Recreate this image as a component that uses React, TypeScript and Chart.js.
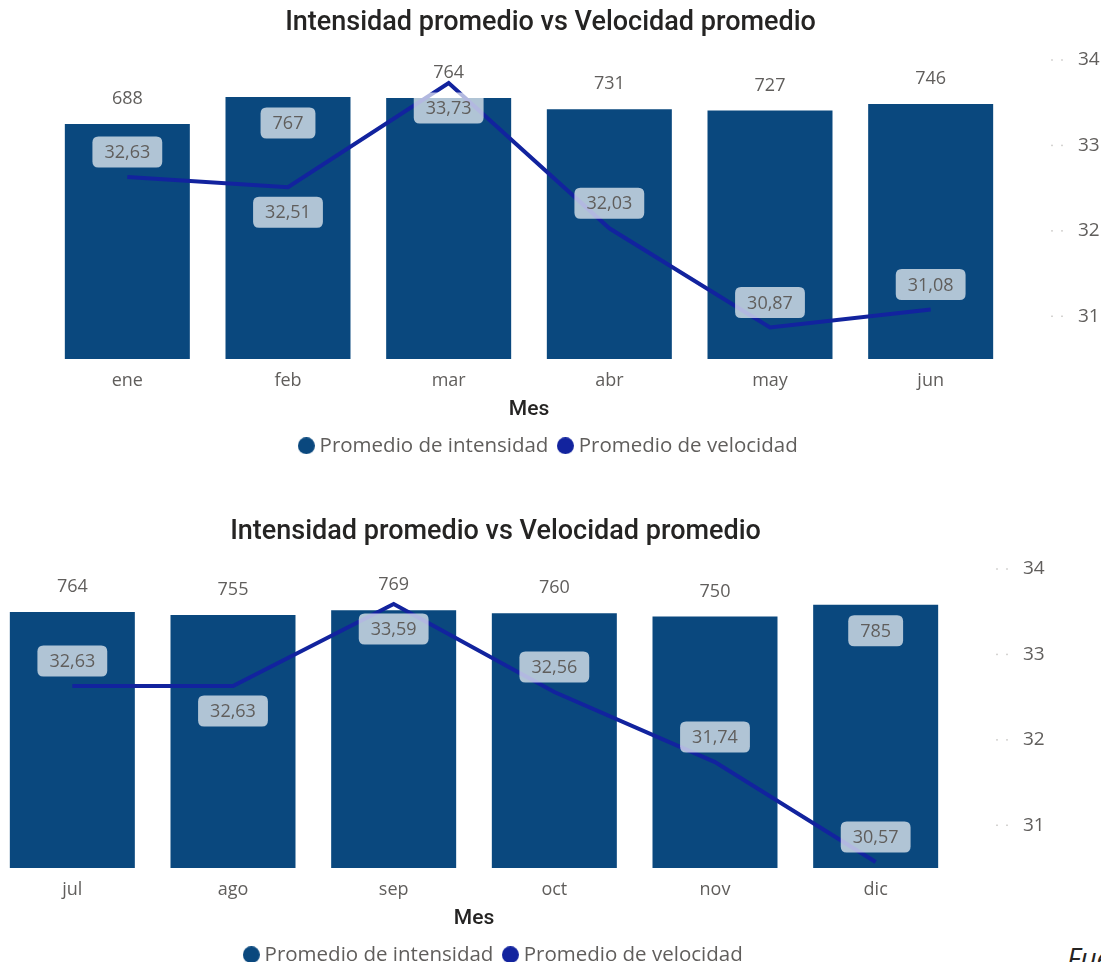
import React, { useEffect, useRef } from "react";
import { Chart, registerables } from "chart.js";

Chart.register(...registerables);

// ---- data ----
const monthsH1 = ["ene", "feb", "mar", "abr", "may", "jun"];
const intensidadH1 = [688, 767, 764, 731, 727, 746];
const velocidadH1 = [32.63, 32.51, 33.73, 32.03, 30.87, 31.08];

const monthsH2 = ["jul", "ago", "sep", "oct", "nov", "dic"];
const intensidadH2 = [764, 755, 769, 760, 750, 785];
const velocidadH2 = [32.63, 32.63, 33.59, 32.56, 31.74, 30.57];

const velocidadTicks = [31, 32, 33, 34];

const TITLE = "Intensidad promedio vs Velocidad promedio";
const X_TITLE = "Mes";
const SERIES = ["Promedio de intensidad", "Promedio de velocidad"];

// ---- label placement (style) ----
const barInsideH1 = [false, true, false, false, false, false];
const lineBelowH1 = [false, true, true, false, false, false];
const barInsideH2 = [false, false, false, false, false, true];
const lineBelowH2 = [false, true, true, false, false, false];

const BAR = "#0A487E";
const LINE = "#12239E";
const GRAY = "#605E5C";
const DARK = "#252423";
const LABEL_FONT = '18px "Open Sans"';

function dot(color: string) {
  const c = document.createElement("canvas");
  c.width = 17;
  c.height = 17;
  const g = c.getContext("2d")!;
  g.fillStyle = color;
  g.beginPath();
  g.arc(8.5, 8.5, 8.5, 0, Math.PI * 2);
  g.fill();
  return c;
}

function roundRect(ctx: CanvasRenderingContext2D, x: number, y: number, w: number, h: number, r: number) {
  ctx.beginPath();
  ctx.moveTo(x + r, y);
  ctx.lineTo(x + w - r, y);
  ctx.quadraticCurveTo(x + w, y, x + w, y + r);
  ctx.lineTo(x + w, y + h - r);
  ctx.quadraticCurveTo(x + w, y + h, x + w - r, y + h);
  ctx.lineTo(x + r, y + h);
  ctx.quadraticCurveTo(x, y + h, x, y + h - r);
  ctx.lineTo(x, y + r);
  ctx.quadraticCurveTo(x, y, x + r, y);
  ctx.closePath();
}

function drawLabel(ctx: CanvasRenderingContext2D, x: number, y: number, txt: string, boxed: boolean) {
  if (boxed) {
    const w = ctx.measureText(txt).width + 24;
    const h = 31;
    ctx.fillStyle = "rgba(255,255,255,0.68)";
    roundRect(ctx, x - w / 2, y - h / 2, w, h, 6);
    ctx.fill();
  }
  ctx.fillStyle = GRAY;
  ctx.fillText(txt, x, y + 1);
}

const labelPlugin = {
  id: "pbiLabels",
  afterDatasetsDraw(chart: any, _args: any, opts: any) {
    const ctx: CanvasRenderingContext2D = chart.ctx;
    ctx.save();
    ctx.font = LABEL_FONT;
    ctx.textAlign = "center";
    ctx.textBaseline = "middle";
    const barMeta = chart.getDatasetMeta(0);
    barMeta.data.forEach((el: any, i: number) => {
      const v = chart.data.datasets[0].data[i];
      const inside = opts.barInside[i];
      const y = inside ? el.y + 26 : el.y - 26;
      drawLabel(ctx, el.x, y, String(v), inside);
    });
    const lineMeta = chart.getDatasetMeta(1);
    lineMeta.data.forEach((el: any, i: number) => {
      const v = chart.data.datasets[1].data[i] as number;
      const below = opts.lineBelow[i];
      const y = below ? el.y + 25 : el.y - 25;
      drawLabel(ctx, el.x, y, v.toFixed(2).replace(".", ","), true);
    });
    // dotted tick marks before right axis labels
    const s = chart.scales.y1;
    ctx.fillStyle = "#C8C6C4";
    s.ticks.forEach((t: any) => {
      const y = s.getPixelForValue(t.value);
      [41, 51].forEach((dx) => {
        ctx.fillRect(s.left + dx - 0.75, y - 0.75, 1.5, 1.5);
      });
    });
    ctx.restore();
  },
};

type Props = {
  months: string[];
  bars: number[];
  line: number[];
  barMax: number;
  barInside: boolean[];
  lineBelow: boolean[];
};

function ComboChart({ months, bars, line, barMax, barInside, lineBelow }: Props) {
  const ref = useRef<HTMLCanvasElement>(null);
  useEffect(() => {
    const dots = [dot(BAR), dot(LINE)];
    const chart = new Chart(ref.current!, {
      type: "bar",
      data: {
        labels: months,
        datasets: [
          {
            type: "bar",
            label: SERIES[0],
            data: bars,
            backgroundColor: BAR,
            yAxisID: "y",
            order: 2,
            categoryPercentage: 1,
            barPercentage: 0.778,
          } as any,
          {
            type: "line",
            label: SERIES[1],
            data: line,
            borderColor: LINE,
            backgroundColor: LINE,
            borderWidth: 4,
            pointRadius: 0,
            tension: 0,
            yAxisID: "y1",
            order: 1,
          } as any,
        ],
      },
      options: {
        responsive: false,
        animation: false,
        layout: { padding: { left: 0, right: 0, top: 0, bottom: 4 } },
        plugins: {
          title: {
            display: true,
            text: TITLE,
            color: DARK,
            font: { family: "Roboto", size: 27, weight: "500" as any },
            padding: { top: 6.8, bottom: 20.8 },
          },
          legend: {
            position: "bottom",
            labels: {
              usePointStyle: true,
              pointStyleWidth: 6,
              font: { family: "Open Sans", size: 20.5 },
              color: GRAY,
              padding: 14,
              sort: (a: any, b: any) => a.datasetIndex - b.datasetIndex,
              generateLabels: (c: any) => {
                const items = (Chart.defaults.plugins.legend.labels as any).generateLabels(c);
                items.forEach((it: any) => {
                  it.pointStyle = dots[it.datasetIndex];
                });
                return items;
              },
            },
          },
          tooltip: { enabled: false },
          pbiLabels: { barInside, lineBelow },
        } as any,
        scales: {
          x: {
            grid: { display: false, drawTicks: false },
            border: { display: false },
            ticks: { font: { family: "Open Sans", size: 18 }, color: GRAY, padding: 11 },
            title: {
              display: true,
              text: X_TITLE,
              color: DARK,
              font: { family: "Roboto", size: 21, weight: "500" as any },
              padding: { top: -5.2, bottom: -1.1 },
            },
          },
          y: {
            position: "left",
            min: 0,
            max: barMax,
            ticks: { display: false, padding: 0 },
            grid: { display: false, drawTicks: false },
            border: { display: false },
            afterFit: (s: any) => {
              s.width = 47;
            },
          },
          y1: {
            position: "right",
            min: 30.5,
            max: 34,
            ticks: {
              font: { family: "Open Sans", size: 19 },
              color: GRAY,
              padding: 0,
              callback: (v: any) => String(v),
            },
            afterBuildTicks: (s: any) => {
              s.ticks = velocidadTicks.map((v) => ({ value: v }));
            },
            grid: { display: false, drawTicks: true, tickLength: 67 },
            border: { display: false },
            afterFit: (s: any) => {
              s.width = 90;
            },
          },
        } as any,
      },
      plugins: [labelPlugin],
    });
    return () => chart.destroy();
  }, []);
  return <canvas ref={ref} width={1101} height={470} style={{ display: "block", width: 1101, height: 470 }} />;
}

export default function App() {
  return (
    <div
      style={{
        position: "fixed",
        left: 0,
        top: 0,
        width: 1101,
        height: 962,
        overflow: "hidden",
        background: "#fff",
      }}
    >
      <div style={{ position: "absolute", left: 0, top: 0 }}>
        <ComboChart
          months={monthsH1}
          bars={intensidadH1}
          line={velocidadH1}
          barMax={875}
          barInside={barInsideH1}
          lineBelow={lineBelowH1}
        />
      </div>
      <div style={{ position: "absolute", left: -55, top: 509 }}>
        <ComboChart
          months={monthsH2}
          bars={intensidadH2}
          line={velocidadH2}
          barMax={892}
          barInside={barInsideH2}
          lineBelow={lineBelowH2}
        />
      </div>
      <div
        style={{
          position: "absolute",
          left: 1067,
          top: 938,
          font: 'italic 28px "Open Sans"',
          color: DARK,
          whiteSpace: "nowrap",
        }}
      >
        Fuente
      </div>
    </div>
  );
}
